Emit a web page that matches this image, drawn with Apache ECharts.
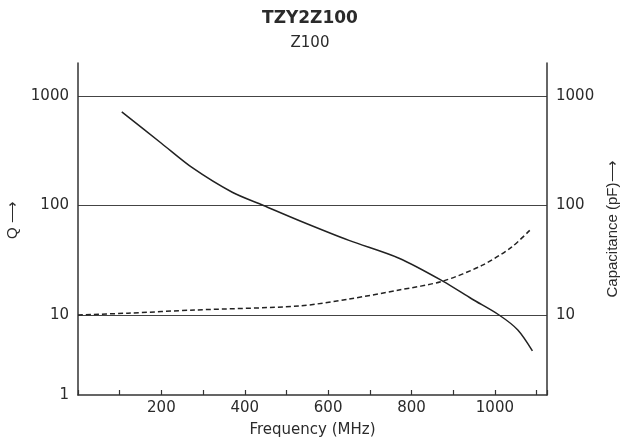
<!DOCTYPE html>
<html>
<head>
<meta charset="utf-8">
<title>TZY2Z100</title>
<script src="https://cdn.jsdelivr.net/npm/echarts@6/dist/echarts.min.js"></script>
<style>
  html, body { margin: 0; padding: 0; background: #fff; }
  #chart { width: 620px; height: 445px; }
</style>
</head>
<body>
<div id="chart"></div>
<script>
// Q curve (left axis)
const qFreq = [105, 200, 275, 370, 445, 530, 650, 770, 875, 945, 1010, 1055, 1090]
const qValues = [715, 370, 220, 132, 100, 73, 48, 33, 20.4, 14, 10, 7.3, 4.7]

// capacitance curve (right axis, dashed)
const capFreq = [0, 120, 280, 530, 650, 770, 875, 970, 1040, 1085]
const capValues = [10, 10.4, 11.1, 12.1, 14, 16.9, 20.4, 28.5, 41.7, 60]

const xLabels = [200, 400, 600, 800, 1000]

const pairs = (xs, ys) => xs.map((x, i) => [x, ys[i]])

const textColor = '#2b2b2b'
const lineColor = '#333'
const labelFont = 'DejaVu Sans'

const chart = echarts.init(document.getElementById('chart'))

const option = {
  animation: false,
  title: {
    text: 'TZY2Z100',
    subtext: 'Z100',
    left: 'center',
    top: 5,
    itemGap: 9,
    textStyle: { fontFamily: labelFont, fontSize: 17, fontWeight: 'bold', color: textColor },
    subtextStyle: { fontFamily: labelFont, fontSize: 15, color: textColor }
  },
  grid: {
    left: 78,
    right: 73,
    top: 63,
    bottom: 50,
    containLabel: false,
    outerBoundsMode: 'none'
  },
  xAxis: {
    type: 'value',
    min: 0,
    max: 1125,
    interval: 100,
    name: 'Frequency (MHz)',
    nameLocation: 'middle',
    nameGap: 28,
    nameTextStyle: { fontFamily: labelFont, fontSize: 15, color: textColor },
    axisLine: { lineStyle: { color: lineColor, width: 1.5 } },
    axisTick: { inside: true, length: 5, lineStyle: { color: lineColor, width: 1.2 } },
    axisLabel: {
      margin: 6,
      fontFamily: labelFont,
      fontSize: 15,
      color: textColor,
      formatter: v => (xLabels.includes(v) ? String(v) : '')
    },
    splitLine: { show: false }
  },
  yAxis: [
    {
      type: 'log',
      logBase: 10,
      min: 1.86,
      max: 2000,
      name: 'Q ⟶',
      nameLocation: 'middle',
      nameRotate: 90,
      nameGap: 54,
      nameTextStyle: { fontFamily: 'Liberation Sans', fontSize: 15, color: textColor, padding: [0, 0, 0, 18] },
      axisLine: { show: true, lineStyle: { color: lineColor, width: 1.5 } },
      axisTick: { show: false },
      axisLabel: {
        margin: 9,
        fontFamily: labelFont,
        fontSize: 15,
        color: textColor,
        showMaxLabel: false,
        formatter: v => (v < 5 ? '1' : String(Math.round(v)))
      },
      splitLine: {
        show: true,
        showMinLine: false,
        showMaxLine: false,
        lineStyle: { color: '#444', width: 1.2 }
      }
    },
    {
      type: 'log',
      logBase: 10,
      min: 1.86,
      max: 2000,
      position: 'right',
      name: 'Capacitance (pF)⟶',
      nameLocation: 'middle',
      nameRotate: 90,
      nameGap: 52,
      nameTextStyle: { fontFamily: 'Liberation Sans', fontSize: 15, color: textColor },
      axisLine: { show: true, lineStyle: { color: lineColor, width: 1.5 } },
      axisTick: { show: false },
      axisLabel: {
        margin: 9,
        fontFamily: labelFont,
        fontSize: 15,
        color: textColor,
        showMinLabel: false,
        showMaxLabel: false,
        formatter: v => String(Math.round(v))
      },
      splitLine: { show: false }
    }
  ],
  series: [
    {
      name: 'Q',
      type: 'line',
      yAxisIndex: 0,
      data: pairs(qFreq, qValues),
      smooth: 0.3,
      symbol: 'none',
      lineStyle: { color: '#222', width: 1.5 }
    },
    {
      name: 'Capacitance',
      type: 'line',
      yAxisIndex: 1,
      data: pairs(capFreq, capValues),
      smooth: 0.3,
      symbol: 'none',
      lineStyle: { color: '#222', width: 1.5, type: [5, 3] }
    }
  ]
}

chart.setOption(option)
</script>
</body>
</html>
